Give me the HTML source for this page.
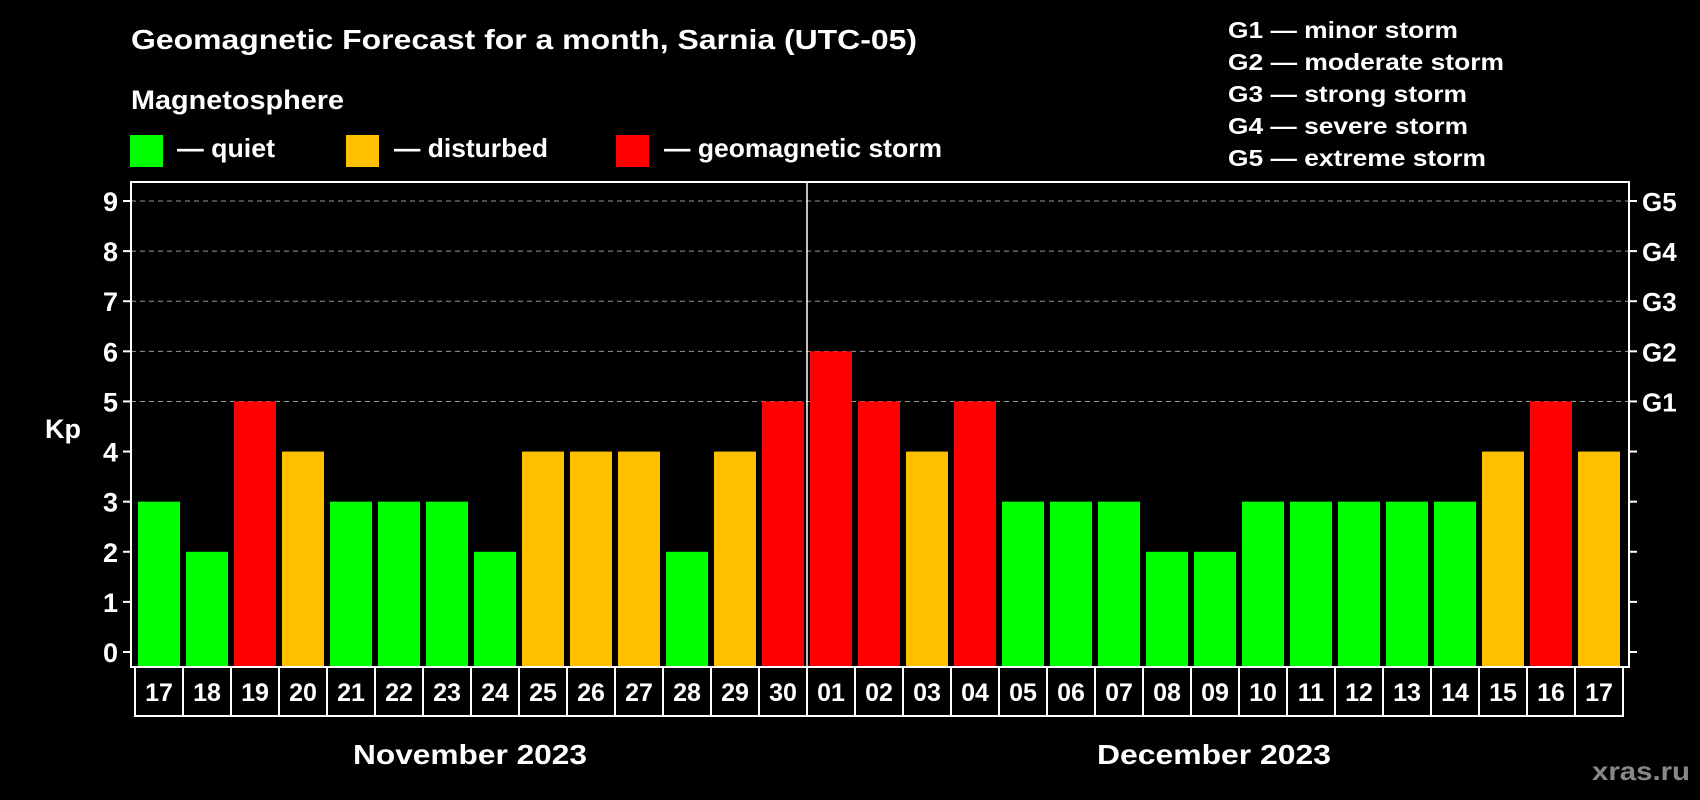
<!DOCTYPE html>
<html><head><meta charset="utf-8"><style>
html,body{margin:0;padding:0;background:#000;}
svg{display:block;}
text{font-family:"Liberation Sans",sans-serif;font-weight:bold;fill:#fff;}
</style></head><body>
<svg id="chart" width="1700" height="800" xmlns="http://www.w3.org/2000/svg">
<rect width="1700" height="800" fill="#000"/>
<text x="131" y="49" font-size="28" textLength="786" lengthAdjust="spacingAndGlyphs">Geomagnetic Forecast for a month, Sarnia (UTC-05)</text>
<text x="131" y="109" font-size="27" textLength="213" lengthAdjust="spacingAndGlyphs">Magnetosphere</text>
<g>
<rect x="130" y="135" width="33" height="32" fill="#00ff00"/>
<text x="177" y="157" font-size="26" textLength="98" lengthAdjust="spacingAndGlyphs">— quiet</text></g>
<g>
<rect x="346" y="135" width="33" height="32" fill="#ffc000"/>
<text x="394" y="157" font-size="26" textLength="154" lengthAdjust="spacingAndGlyphs">— disturbed</text></g>
<g>
<rect x="616" y="135" width="33" height="32" fill="#ff0000"/>
<text x="664" y="157" font-size="26" textLength="278" lengthAdjust="spacingAndGlyphs">— geomagnetic storm</text></g>
<g font-size="23">
<text x="1228" y="38" textLength="230" lengthAdjust="spacingAndGlyphs">G1 — minor storm</text>
<text x="1228" y="70" textLength="276" lengthAdjust="spacingAndGlyphs">G2 — moderate storm</text>
<text x="1228" y="102" textLength="239" lengthAdjust="spacingAndGlyphs">G3 — strong storm</text>
<text x="1228" y="134" textLength="240" lengthAdjust="spacingAndGlyphs">G4 — severe storm</text>
<text x="1228" y="166" textLength="258" lengthAdjust="spacingAndGlyphs">G5 — extreme storm</text>
</g>
<g id="plot"></g>
<text x="63" y="438" font-size="27" text-anchor="middle">Kp</text>
<text x="470" y="764" font-size="28" text-anchor="middle" textLength="234" lengthAdjust="spacingAndGlyphs">November 2023</text>
<text x="1214" y="764" font-size="28" text-anchor="middle" textLength="234" lengthAdjust="spacingAndGlyphs">December 2023</text>
<text x="1690" y="780" font-size="26" text-anchor="end" style="fill:#888" textLength="98" lengthAdjust="spacingAndGlyphs">xras.ru</text>
</svg>
<script>
const days = ["17","18","19","20","21","22","23","24","25","26","27","28","29","30","01","02","03","04","05","06","07","08","09","10","11","12","13","14","15","16","17"];
const kpValues = [3,2,5,4,3,3,3,2,4,4,4,2,4,5,6,5,4,5,3,3,3,2,2,3,3,3,3,3,4,5,4];
const yTicks = [0,1,2,3,4,5,6,7,8,9];
const gLabels = ["","","","","","G1","G2","G3","G4","G5"];
const NS="http://www.w3.org/2000/svg";
const g=document.getElementById('plot');
const L=131,R=1629,T=182,B=667,Y0=652,Y9=201;
const cellL=135,pitch=48,cellH=49;
function y(v){return Y0-(Y0-Y9)*v/9;}
function x(i){return cellL+i*pitch;}
function mk(tag,a){const e=document.createElementNS(NS,tag);for(const k in a)e.setAttribute(k,a[k]);g.appendChild(e);return e;}
function col(v){return v>=5?"#ff0000":(v>=4?"#ffc000":"#00ff00");}
yTicks.forEach((t,i)=>{
  if(t>=5){const gl=mk('line',{x1:L,x2:R,y1:y(t),y2:y(t),stroke:'#999','stroke-width':1,'stroke-dasharray':'5,4'});
  
  }
  mk('line',{x1:L-8,x2:L,y1:y(t),y2:y(t),stroke:'#fff','stroke-width':2});
  mk('line',{x1:R,x2:R+8,y1:y(t),y2:y(t),stroke:'#fff','stroke-width':2});
  const tl=mk('text',{x:118,y:y(t)+10,'font-size':27,'text-anchor':'end'});tl.textContent=t;
  
  
  if(gLabels[i]){const gt=mk('text',{x:1642,y:y(t)+10,'font-size':26});gt.textContent=gLabels[i];
  
  }
});
kpValues.forEach((v,i)=>{
  const b=mk('rect',{x:x(i)+3,y:y(v),width:42,height:B-y(v),fill:col(v)});
  
  
  mk('rect',{x:x(i),y:B,width:pitch,height:cellH,fill:'none',stroke:'#fff','stroke-width':2});
  const dl=mk('text',{x:x(i)+pitch/2,y:B+34,'font-size':25,'text-anchor':'middle'});dl.textContent=days[i];
  
  
});
mk('rect',{x:L,y:T,width:R-L,height:B-T,fill:'none',stroke:'#fff','stroke-width':2});
const split=days.indexOf("01");
mk('line',{x1:x(split),x2:x(split),y1:T,y2:B,stroke:'#fff','stroke-width':1.5});
</script>
</body></html>
